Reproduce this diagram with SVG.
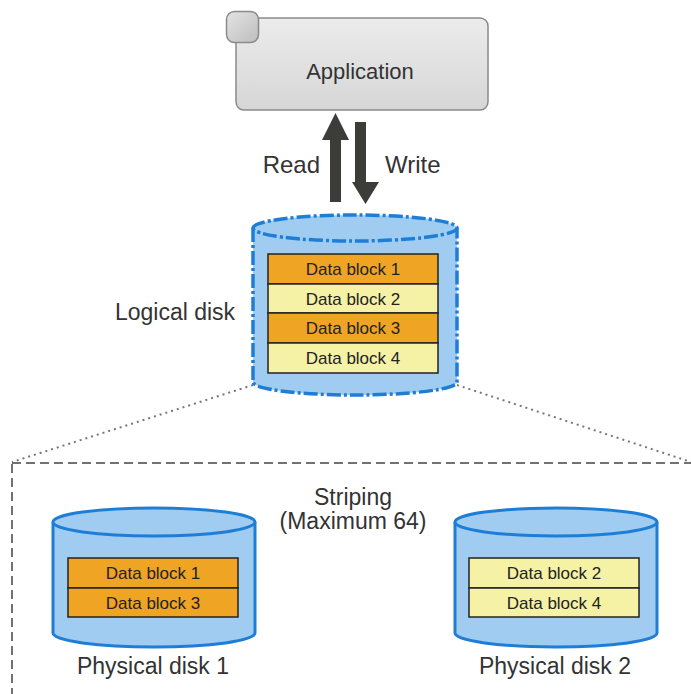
<svg xmlns="http://www.w3.org/2000/svg" width="691" height="694" viewBox="0 0 691 694">
<defs>
<linearGradient id="appg" x1="0" y1="0" x2="0" y2="1">
<stop offset="0" stop-color="#ececec"/>
<stop offset="1" stop-color="#d6d6d6"/>
</linearGradient>
<linearGradient id="tabg" x1="0" y1="0" x2="1" y2="1">
<stop offset="0" stop-color="#e4e4e4"/>
<stop offset="1" stop-color="#bdbdbd"/>
</linearGradient>
</defs>
<style>
text{font-family:"Liberation Sans",Arial,sans-serif;fill:#333;}
.lbl{font-size:23px;text-anchor:middle;}
.blk{font-size:17px;text-anchor:middle;fill:#222;}
.or{fill:#F0A423;stroke:#222;stroke-width:1.5;}
.ye{fill:#F5F2A6;stroke:#222;stroke-width:1.5;}
.body{fill:#A0CCF2;}
.pd{fill:#A0CCF2;stroke:#1E7ED6;stroke-width:3;}
.ld{fill:none;stroke:#1E7ED6;stroke-width:3.5;stroke-dasharray:14 3 3 3;}
.arrow{fill:#3c3c38;}
</style>
<rect width="691" height="694" fill="#fff"/>

<g id="connectors">
<line x1="253" y1="385" x2="12" y2="462" stroke="#777" stroke-width="2" stroke-dasharray="2 4"/>
<line x1="457" y1="385" x2="691" y2="462" stroke="#777" stroke-width="2" stroke-dasharray="2 4"/>
<polygon class="arrow" points="330,202 341,202 341,140 349,140 335.5,113 322,140 330,140"/>
<polygon class="arrow" points="355,122 366,122 366,182 379,182 365.5,204 352,182 355,182"/>
<text x="320" y="173" style="font-size:24px;text-anchor:end;">Read</text>
<text x="385" y="173" style="font-size:24px;">Write</text>
</g>

<g id="striping-area">
<rect x="12" y="463" width="720" height="300" fill="none" stroke="#444" stroke-width="1.5" stroke-dasharray="9 5"/>
<text class="lbl" x="353" y="505">Striping</text>
<text class="lbl" x="353" y="529">(Maximum 64)</text>
</g>

<g id="application">
<rect x="236" y="18" width="252" height="92" rx="8" fill="url(#appg)" stroke="#8a8a8a" stroke-width="1.5"/>
<rect x="226.5" y="11.5" width="32" height="31" rx="8" fill="url(#tabg)" stroke="#8a8a8a" stroke-width="1.5"/>
<text x="360" y="79" style="font-size:22px;text-anchor:middle;">Application</text>
</g>

<g id="logical-disk">
<path class="body" d="M253,228 L253,382 A102,13 0 0 0 457,382 L457,228 Z"/>
<ellipse class="body" cx="355" cy="228" rx="102" ry="13"/>
<path class="ld" d="M253,228 A102,13 0 0 1 457,228 A102,13 0 0 1 253,228 Z"/>
<path class="ld" d="M253,228 L253,382 A102,13 0 0 0 457,382 L457,228"/>
<rect class="or" x="268" y="254" width="170" height="30"/>
<rect class="ye" x="268" y="284" width="170" height="29"/>
<rect class="or" x="268" y="313" width="170" height="30"/>
<rect class="ye" x="268" y="343" width="170" height="30"/>
<text class="blk" x="353" y="275">Data block 1</text>
<text class="blk" x="353" y="305">Data block 2</text>
<text class="blk" x="353" y="334">Data block 3</text>
<text class="blk" x="353" y="364">Data block 4</text>
<text x="175" y="320" style="font-size:23px;text-anchor:middle;">Logical disk</text>
</g>

<g id="physical-disk-1">
<path class="pd" d="M53,522 L53,633 A101,14 0 0 0 255,633 L255,522"/>
<ellipse class="pd" cx="154" cy="522" rx="101" ry="14"/>
<rect class="or" x="68" y="558" width="170" height="30"/>
<rect class="or" x="68" y="588" width="170" height="29"/>
<text class="blk" x="153" y="579">Data block 1</text>
<text class="blk" x="153" y="609">Data block 3</text>
<text x="153" y="674" style="font-size:23px;text-anchor:middle;">Physical disk 1</text>
</g>

<g id="physical-disk-2">
<path class="pd" d="M455,522 L455,633 A101,14 0 0 0 657,633 L657,522"/>
<ellipse class="pd" cx="556" cy="522" rx="101" ry="14"/>
<rect class="ye" x="469" y="558" width="170" height="30"/>
<rect class="ye" x="469" y="588" width="170" height="29"/>
<text class="blk" x="554" y="579">Data block 2</text>
<text class="blk" x="554" y="609">Data block 4</text>
<text x="555" y="674" style="font-size:23px;text-anchor:middle;">Physical disk 2</text>
</g>
</svg>
